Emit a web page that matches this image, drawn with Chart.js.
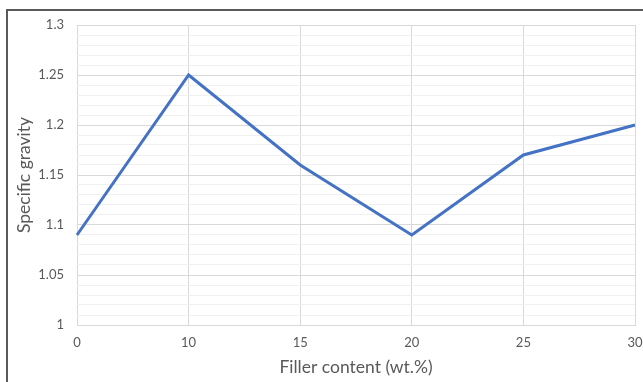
<!DOCTYPE html>
<html>
<head>
<meta charset="utf-8">
<script src="https://cdn.jsdelivr.net/npm/chart.js@4"></script>
<style>
  html, body { margin: 0; padding: 0; background: #fff; }
  #wrap { position: relative; width: 643px; height: 382px; overflow: hidden; }
  #frame { position: absolute; left: 6px; top: 9px; width: 700px; height: 400px;
           border-left: 2px solid #5a5a5a; border-top: 2px solid #5a5a5a; }
  canvas { position: absolute; left: 0; top: 0; }
</style>
</head>
<body>
<div id="wrap">
  <div id="frame"></div>
  <canvas id="chart" width="643" height="382"></canvas>
</div>
<script>
        const fillerLabels = ['0', '10', '15', '20', '25', '30'];
        const specificGravity = [1.09, 1.25, 1.16, 1.09, 1.17, 1.20];
        const yMin = 1, yMax = 1.3, yMinorStep = 0.01;

        const textColor = '#595959';
        const fontFamily = 'Lato, "Open Sans", sans-serif';

        // major gridline every 0.05, minor every 0.01
        function isMajor(v) {
            return Math.round(v * 100) % 5 === 0;
        }

        new Chart(document.getElementById('chart'), {
            type: 'line',
            data: {
                labels: fillerLabels,
                datasets: [{
                    data: specificGravity,
                    borderColor: '#4472C4',
                    borderWidth: 3,
                    pointRadius: 0,
                    tension: 0,
                    fill: false
                }]
            },
            options: {
                responsive: false,
                animation: false,
                layout: { padding: { left: 8, right: 8, top: 25, bottom: 0 } },
                plugins: { legend: { display: false }, tooltip: { enabled: false } },
                scales: {
                    x: {
                        offset: false,
                        grid: { color: '#d9d9d9', drawTicks: false },
                        border: { color: '#d9d9d9' },
                        ticks: { color: textColor, font: { family: fontFamily, size: 13 }, padding: 10, maxRotation: 0 },
                        title: {
                            display: true, text: 'Filler content (wt.%)', color: textColor,
                            font: { family: fontFamily, size: 17.5 }, padding: { top: 0, bottom: 4 }
                        },
                        afterFit: s => { s.height = 57; s.paddingRight = 0; s.paddingLeft = 0; }
                    },
                    y: {
                        min: yMin, max: yMax,
                        grid: {
                            drawTicks: false,
                            color: c => isMajor(c.tick.value) ? '#d9d9d9' : '#f0f0f0'
                        },
                        border: { display: false },
                        ticks: {
                            stepSize: yMinorStep, autoSkip: false, maxTicksLimit: 100,
                            color: textColor, font: { family: fontFamily, size: 13 }, padding: 13,
                            callback: v => isMajor(v) ? String(Math.round(v * 100) / 100) : ''
                        },
                        title: {
                            display: true, text: 'Specific gravity', color: textColor,
                            font: { family: fontFamily, size: 17.5 }, padding: { top: 6, bottom: 0 }
                        },
                        afterFit: s => { s.width = 69; }
                    }
                }
            }
        });
</script>
</body>
</html>
